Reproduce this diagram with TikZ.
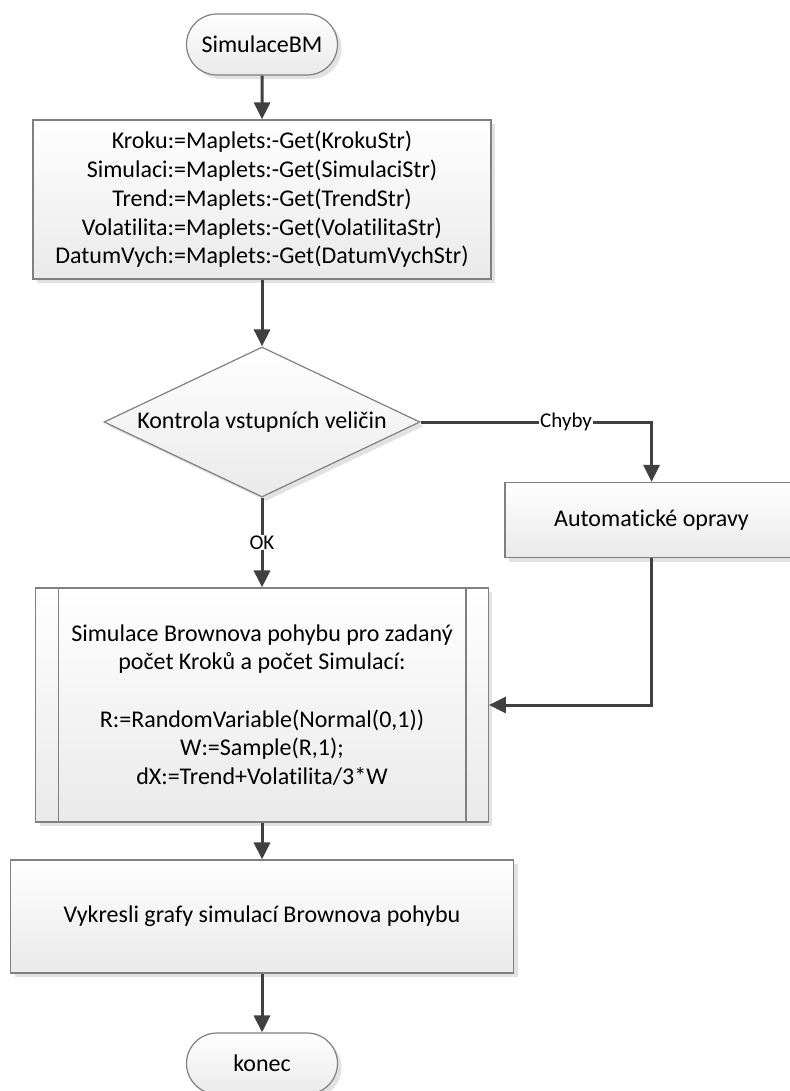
\documentclass[tikz,border=0pt]{standalone}
\usepackage{fontspec}
\setmainfont{Carlito}[Ligatures=NoCommon]
\usetikzlibrary{shapes.geometric,shapes.misc,shadows,arrows.meta}

\definecolor{edgegray}{HTML}{808080}
\definecolor{linkgray}{HTML}{404040}
\definecolor{shadegray}{HTML}{EAEAEA}
\definecolor{shadowgray}{HTML}{E2E2E2}

\begin{document}
\begin{tikzpicture}[x=1pt,y=-1pt,
  base/.style={draw=edgegray, line width=1.2pt, top color=white, bottom color=shadegray,
    drop shadow={shadow xshift=4pt, shadow yshift=-4pt, fill=shadowgray, opacity=1},
    font=\fontsize{24}{28.7}\selectfont, align=center, inner sep=0pt, text=black},
  terminal/.style={base, rounded rectangle, minimum width=151pt, minimum height=61pt},
  process/.style={base, rectangle},
  decision/.style={base, diamond, minimum width=316pt, minimum height=150pt},
  link/.style={draw=linkgray, line width=3pt, -{Triangle[length=17pt,width=16pt]}},
  flowlabel/.style={fill=white, inner sep=1pt, text=black, font=\fontsize{21}{24}\selectfont}
]
\useasboundingbox (0,0) rectangle (789,1091);

% nodes
\node[terminal] (start) at (262,44.5) {SimulaceBM};
\node[process, minimum width=458pt, minimum height=159pt] (inputs) at (262,199.5)
  {Kroku:=Maplets:-Get(KrokuStr)\\
   Simulaci:=Maplets:-Get(SimulaciStr)\\
   Trend:=Maplets:-Get(TrendStr)\\
   Volatilita:=Maplets:-Get(VolatilitaStr)\\
   DatumVych:=Maplets:-Get(DatumVychStr)};
\node[decision] (check) at (262,422) {\makebox[0pt]{Kontrola vstupních veličin}};
\node[process, minimum width=293pt, minimum height=75pt] (fix) at (651.5,520) {Automatické opravy};
\node[process, minimum width=452.6pt, minimum height=234pt] (sim) at (262,705)
  {Simulace Brownova pohybu pro zadaný\\
   počet Kroků a počet Simulací:\\[28.7pt]
   R:=RandomVariable(Normal(0,1))\\
   W:=Sample(R,1);\\
   dX:=Trend+Volatilita/3*W};
\draw[edgegray, line width=1.2pt]
  ([xshift=23pt]sim.north west) -- ([xshift=23pt]sim.south west)
  ([xshift=-23pt]sim.north east) -- ([xshift=-23pt]sim.south east);
\node[process, minimum width=503pt, minimum height=113pt] (plot) at (262,916.5)
  {Vykresli grafy simulací Brownova pohybu};
\node[terminal] (stop) at (262,1063.5) {konec};

% connectors
\draw[link] (start) -- (inputs);
\draw[link] (inputs) -- (check);
\draw[link] (check.east) -| node[flowlabel, pos=0.315] {Chyby} (fix.north);
\draw[link] (check.south) -- node[flowlabel, pos=0.5] {OK} (sim.north);
\draw[link] (fix.south) |- (sim.east);
\draw[link] (sim) -- (plot);
\draw[link] (plot) -- (stop);
\end{tikzpicture}
\end{document}
